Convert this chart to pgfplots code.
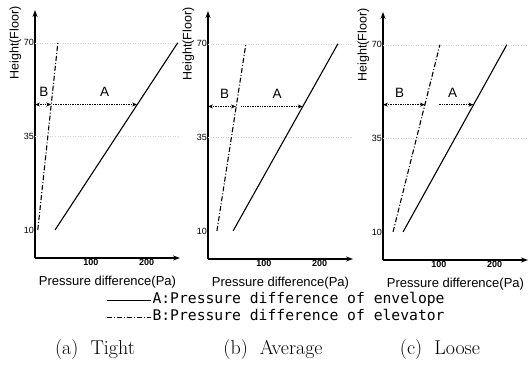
\documentclass[border=0pt]{standalone}
\usepackage{fontspec}
\setsansfont{Liberation Sans}
\newfontfamily\legfont{DejaVu Sans Mono}
\usepackage{pgfplots}
\pgfplotsset{compat=1.18}
\usetikzlibrary{arrows.meta}
\tikzset{lab/.style={font=\sffamily\fontsize{13.5}{14}\selectfont}}
\pgfplotsset{
  panel/.style={
    scale only axis, width=145pt, height=248pt,
    xmin=0, xmax=260, ymin=-0.3, ymax=2.35,
    axis lines=left,
    axis line style={line width=1.2pt, -{Stealth[length=7pt,width=5pt]}},
    xtick={100,200}, xticklabels={100,200},
    ytick={0,1,2}, yticklabels={10,35,70},
    major tick length=0pt,
    tick label style={font=\sffamily\bfseries\fontsize{9}{10}\selectfont},
    yticklabel style={inner sep=1pt, font=\sffamily\fontsize{9}{10}\selectfont},
    xticklabel style={inner sep=1pt},
    xlabel={Pressure difference(Pa)},
    ylabel={Height(Floor)},
    every axis x label/.style={at={(rel axis cs:0.5,0)}, anchor=center, yshift=-24pt, font=\sffamily\fontsize{13}{14}\selectfont},
    every axis y label/.style={at={(rel axis cs:-0.135,0.867)}, anchor=center, rotate=90, font=\sffamily\fontsize{12.5}{14}\selectfont},
    clip=false,
  },
  envA/.style={black, line width=1.1pt},
  envB/.style={black, line width=1.1pt, dash pattern=on 5pt off 2pt on 1pt off 2pt},
  lvlB/.style={black, line width=0.7pt, densely dotted, {Stealth[length=5pt,width=4pt]}-{Stealth[length=5pt,width=4pt]}},
  lvlA/.style={black, line width=0.7pt, densely dotted, -{Stealth[length=5pt,width=4pt]}},
  grd/.style={gray!35, line width=0.5pt, dotted},
}
\begin{document}
\begin{tikzpicture}
\useasboundingbox (0,0) rectangle (530pt,-374pt);
% (a) Tight
\begin{axis}[panel, at={(35pt,-258pt)}, anchor=south west]
\addplot[grd, forget plot] coordinates {(0,1) (260,1)};
\addplot[grd, forget plot] coordinates {(0,2) (260,2)};
\addplot[envA] coordinates {(36,0) (256,2)};
\addplot[envB] coordinates {(5,0) (41,2)};
\addplot[lvlB] coordinates {(0,1.34) (29,1.34)};
\addplot[lvlA] coordinates {(32,1.34) (183,1.34)};
\node[lab] at (axis cs:16,1.47) {B};
\node[lab] at (axis cs:125,1.47) {A};
\end{axis}
% (b) Average
\begin{axis}[panel, at={(208pt,-259pt)}, anchor=south west,
  legend style={at={(rel axis cs:0.469,-0.2)}, anchor=center, draw=none, fill=none,
    font=\legfont\fontsize{14.7}{15}\selectfont, row sep=2pt,
    nodes={text height=10pt, text depth=3pt, inner sep=1pt}},
  legend cell align=left,
  legend image code/.code={\draw[#1] (0pt,0pt) -- (44pt,0pt);}]
\addplot[grd, forget plot] coordinates {(0,1) (260,1)};
\addplot[grd, forget plot] coordinates {(0,2) (260,2)};
\addplot[envA] coordinates {(45,0) (233,2)};
\addlegendentry{A:Pressure difference of envelope}
\addplot[envB] coordinates {(16,0) (68,2)};
\addlegendentry{B:Pressure difference of elevator}
\addplot[lvlB, forget plot] coordinates {(0,1.33) (50,1.33)};
\addplot[lvlA, forget plot] coordinates {(60,1.33) (170,1.33)};
\node[lab] at (axis cs:30,1.46) {B};
\node[lab] at (axis cs:124,1.46) {A};
\end{axis}
% (c) Loose
\begin{axis}[panel, at={(383pt,-260pt)}, anchor=south west]
\addplot[grd, forget plot] coordinates {(0,1) (260,1)};
\addplot[grd, forget plot] coordinates {(0,2) (260,2)};
\addplot[envA] coordinates {(36,0) (222,2)};
\addplot[envB] coordinates {(18,0) (102,2)};
\addplot[lvlB] coordinates {(0,1.36) (75,1.36)};
\addplot[lvlA] coordinates {(100,1.36) (162,1.36)};
\node[lab] at (axis cs:30,1.49) {B};
\node[lab] at (axis cs:125,1.49) {A};
\end{axis}
\node[font=\fontsize{20}{22}\selectfont] at (95pt,-350pt) {(a)\ \ Tight};
\node[font=\fontsize{20}{22}\selectfont] at (273pt,-350pt) {(b)\ \ Average};
\node[font=\fontsize{20}{22}\selectfont] at (440pt,-350pt) {(c)\ \ Loose};
\end{tikzpicture}
\end{document}
